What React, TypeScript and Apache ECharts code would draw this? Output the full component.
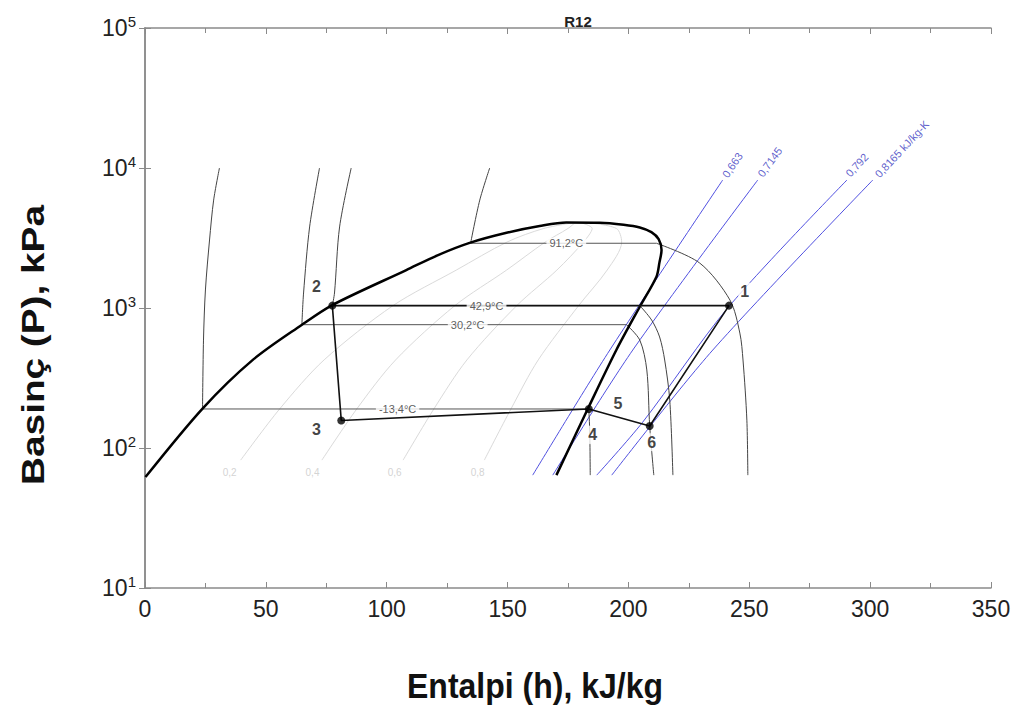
import React, { useEffect, useRef } from 'react';
import * as echarts from 'echarts';

type Pt = [number, number];

// Saturation dome (h kJ/kg, P kPa)
const dome: Pt[] = [
  [0.2, 62], [23.9, 192], [44.6, 426], [64.8, 757], [77.5, 1050], [108.1, 1866],
  [121, 2380], [134.3, 2920], [150, 3460], [163.3, 3850], [174.3, 4080], [188.1, 4064],
  [198, 3930], [204.7, 3760], [209.5, 3480], [212.5, 3100], [213.7, 2594], [212.8, 2100],
  [211.6, 1675], [204.7, 1021], [195, 501], [183.3, 192], [170.2, 64],
];

// Isotherms: liquid part, horizontal level, vapour part
const isoNames = ['-13,4°C', '30,2°C', '42,9°C', '91,2°C'];
const isoLiquid: Pt[][] = [
  [[30.8, 10000], [28.4, 5900], [26.7, 3060], [25.0, 1345], [24.2, 590], [23.8, 190]],
  [[72.2, 10000], [68.1, 3793], [65.6, 1280], [64.9, 760]],
  [[85.3, 10000], [80.5, 3793], [78.4, 1280], [77.5, 1040]],
  [[142.6, 10000], [138.5, 5900], [134.7, 2900]],
];
const isoLevel: number[] = [190, 760, 1040, 2900];
const isoVapour: Pt[][] = [
  [[183.6, 190], [184, 130], [184.2, 64]],
  [[199.2, 760], [204.7, 590], [207.6, 361], [208.8, 143.6], [210.5, 64]],
  [[204.7, 1040], [209.6, 820], [212.9, 621], [215, 425], [217.1, 220], [218.4, 64]],
  [[211.6, 2900], [229.5, 2094], [242, 1140], [246.1, 662], [247.4, 425], [249, 158], [249.4, 64]],
];
const isoLabelPos: Pt[] = [[104.5, 190], [133.5, 760], [141.3, 1040], [174.3, 2900]];

// Quality lines
const qualityNames = ['0,2', '0,4', '0,6', '0,8'];
const qualityLines: Pt[][] = [
  [[39.6, 82], [55.7, 190], [74.1, 426], [102.6, 1040], [128.8, 1866], [149.8, 2960], [165, 3700], [178, 4080]],
  [[73.2, 82], [87.6, 190], [103.7, 426], [128.2, 1040], [149.6, 1866], [165.6, 2960], [175, 3700], [178, 4080]],
  [[106.8, 82], [119.5, 190], [133.2, 426], [153.8, 1040], [170.4, 1866], [181.4, 2960], [185, 3700], [180, 4080]],
  [[140.4, 82], [151.4, 190], [162.7, 426], [179.4, 1040], [191.2, 1866], [197.2, 2960], [195, 3700], [182, 4080]],
];
const qualityLabelPos: Pt[] = [[35, 66.3], [69.3, 66.3], [103.3, 66.3], [137.6, 66.3]];

// Isentropes
const entropyNames = ['0,663', '0,7145', '0,792', '0,8165 kJ/kg-K'];
const entropyLines: Pt[][] = [
  [[160.4, 64], [192.3, 501], [239, 8205]],
  [[168.7, 64], [201.8, 501], [253.5, 8205]],
  [[186.9, 64], [205.9, 153], [241.5, 1021], [290.4, 8205]],
  [[193.1, 64], [234.9, 501], [301.1, 8205]],
];
const entropyLabelPos: Pt[] = [[243, 10500], [258.5, 11040], [294.5, 10500], [313.1, 13670]];
const entropyLabelRot: number[] = [56, 54, 47, 47];

// Cycle
const cycle: Pt[] = [[241.6, 1040], [77.5, 1040], [81.2, 157], [183.6, 190], [208.8, 143.6], [241.6, 1040]];
const statePoints: Pt[] = [[241.6, 1040], [77.5, 1040], [81.2, 157], [183.6, 190], [208.8, 143.6]];
const stateNames = ['1', '2', '3', '4', '5', '6'];
const stateLabelPos: Pt[] = [[248.1, 1306], [70.9, 1419], [70.9, 134.5], [185.2, 124], [195.7, 208], [209.6, 110]];

const FONT = 'Liberation Sans, Arial, sans-serif';

export default function App() {
  const ref = useRef<HTMLDivElement>(null);
  useEffect(() => {
    document.body.style.margin = '0';
    const chart = echarts.init(ref.current!, undefined, { renderer: 'svg' });
    const series: any[] = [];
    const line = (data: Pt[], color: string, width: number, z: number, smooth: number | boolean) => ({
      type: 'line', data, showSymbol: false, symbol: 'none', smooth, z, silent: true,
      lineStyle: { color, width }, xAxisIndex: 0, yAxisIndex: 0,
    });
    qualityLines.forEach((d) => series.push(line(d, '#dadada', 1, 1, 0.3)));
    entropyLines.forEach((d) => series.push(line(d, '#5050e0', 1, 2, 0.3)));
    isoLiquid.forEach((d) => series.push(line(d, '#444', 1, 3, 0.3)));
    isoVapour.forEach((d) => series.push(line(d, '#444', 1, 3, 0.3)));
    isoLevel.forEach((p, i) =>
      series.push(line([[isoLiquid[i][isoLiquid[i].length - 1][0], p], [isoVapour[i][0][0], p]], '#555', 1, 3, false)));
    series.push(line(dome, '#000', 2.5, 5, 0.3));
    series.push(line(cycle, '#111', 1.6, 6, false));
    series.push({
      type: 'scatter', data: statePoints, symbolSize: 8, z: 8, silent: true,
      itemStyle: { color: '#000' },
    });
    const textSeries = (pos: Pt[], names: string[], style: any, rot?: number[]) => ({
      type: 'scatter', symbolSize: 0, z: 10, silent: true,
      data: pos.map((p, i) => ({
        value: p,
        label: {
          show: true, position: 'inside', formatter: names[i], rotate: rot ? rot[i] : 0,
          align: 'center', verticalAlign: 'middle', fontFamily: FONT, ...style,
        },
      })),
    });
    series.push(textSeries(isoLabelPos, isoNames, { fontSize: 11, color: '#333', backgroundColor: '#fff', padding: [0, 3] }));
    series.push(textSeries(qualityLabelPos, qualityNames, { fontSize: 10, color: '#c8c8c8' }));
    series.push(textSeries(entropyLabelPos, entropyNames, { fontSize: 11, color: '#3838c0' }, entropyLabelRot));
    series.push(textSeries(stateLabelPos, stateNames, { fontSize: 16, fontWeight: 'bold', color: '#111', backgroundColor: '#fff', padding: [1, 2] }));

    const axisLine = { show: true, lineStyle: { color: '#8a8a8a', width: 1.5 } };
    chart.setOption({
      animation: false,
      grid: { left: 145, right: 28, top: 28, bottom: 119, containLabel: false },
      title: {
        text: 'R12', left: 573, top: 9, textAlign: 'center',
        textStyle: { fontSize: 15, fontWeight: 'bold', color: '#222', fontFamily: FONT },
      },
      xAxis: [
        {
          type: 'value', min: 0, max: 350, interval: 50, position: 'bottom',
          axisLine, splitLine: { show: false },
          axisTick: { show: true, inside: true, length: 6, lineStyle: { color: '#8a8a8a' } },
          minorTick: { show: true, splitNumber: 2, length: 5, lineStyle: { color: '#8a8a8a' } },
          axisLabel: { fontSize: 23, color: '#222', margin: 9, fontFamily: FONT },
        },
        {
          type: 'value', min: 0, max: 350, interval: 50, position: 'top',
          axisLine, splitLine: { show: false },
          axisTick: { show: true, inside: true, length: 6, lineStyle: { color: '#8a8a8a' } },
          minorTick: { show: true, splitNumber: 2, length: 5, lineStyle: { color: '#8a8a8a' } },
          axisLabel: { show: false },
        },
      ],
      yAxis: [
        {
          type: 'log', logBase: 10, min: 10, max: 100000, position: 'left',
          axisLine, splitLine: { show: false },
          axisTick: { show: true, inside: true, length: 6, lineStyle: { color: '#8a8a8a' } },
          minorTick: { show: false },
          axisLabel: {
            margin: 9, fontFamily: FONT,
            formatter: (v: number) => `{b|10}{s|${Math.round(Math.log10(v))}}`,
            rich: {
              b: { fontSize: 23, color: '#222', fontFamily: FONT },
              s: { fontSize: 15, color: '#222', fontFamily: FONT, padding: [0, 0, 14, 0] },
            },
          },
        },
        {
          type: 'log', logBase: 10, min: 10, max: 100000, position: 'right',
          axisLine, splitLine: { show: false },
          axisTick: { show: true, inside: true, length: 6, lineStyle: { color: '#8a8a8a' } },
          axisLabel: { show: false },
        },
      ],
      graphic: [
        {
          type: 'text', x: 535, y: 686, scaleY: 1.1,
          style: { text: 'Entalpi (h), kJ/kg', fontSize: 32, fontWeight: 'bold', fill: '#111', fontFamily: FONT, align: 'center', verticalAlign: 'middle' },
        },
        {
          type: 'text', x: 33, y: 345, rotation: Math.PI / 2, scaleX: 1.25,
          style: { text: 'Basinç (P), kPa', fontSize: 31, fontWeight: 'bold', fill: '#111', fontFamily: FONT, align: 'center', verticalAlign: 'middle' },
        },
      ],
      series,
    });
    return () => chart.dispose();
  }, []);
  return <div ref={ref} style={{ width: 1019, height: 707 }} />;
}
